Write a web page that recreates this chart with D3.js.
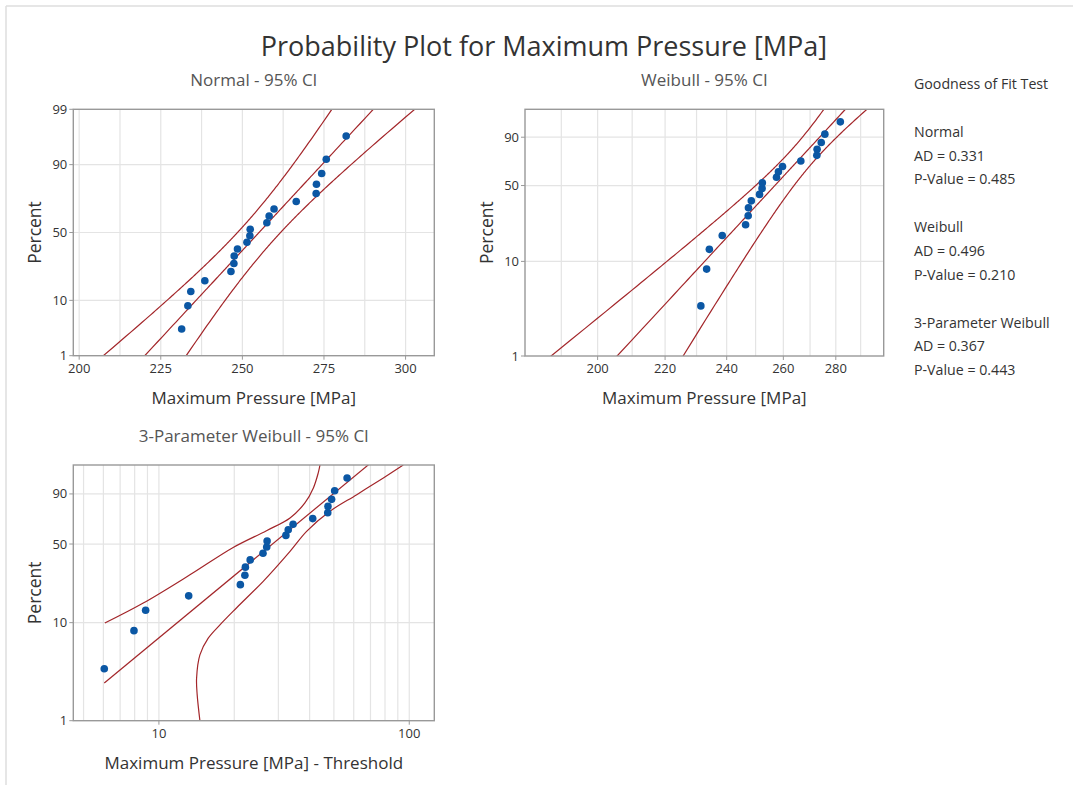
<!DOCTYPE html>
<html>
<head>
<meta charset="utf-8">
<script src="https://cdn.jsdelivr.net/npm/d3@7/dist/d3.min.js"></script>
<style>
  body { margin: 0; background: #fff; }
  text { font-family: "Open Sans", "Noto Sans", sans-serif; }
</style>
</head>
<body>
<svg id="chart" width="1073" height="785"></svg>
<script>
// sorted sample, MPa
var pressure = [231.4, 233.3, 234.2, 238.5, 246.5, 247.4, 247.5, 248.5, 251.4, 252.3,
  252.4, 257.5, 258.2, 259.7, 266.5, 272.6, 272.7, 274.3, 275.7, 281.8]
// median ranks, percent
var percentRank = [3.43, 8.33, 13.24, 18.14, 23.04, 27.94, 32.84, 37.75, 42.65, 47.55,
  52.45, 57.35, 62.25, 67.16, 72.06, 76.96, 81.86, 86.76, 91.67, 96.57]

// fitted parameters
var normalMu = 255.1
var normalSigma = 15.05
var weibullShape = 19.0
var weibullScale = 261.9
var w3Shape = 2.152
var w3Scale = 33.7
var w3Threshold = 225.35

// 3-parameter CI bands: [value - threshold, percent]
var w3Upper = [[6.08, 9.9], [8.66, 15.5], [13.3, 28.2], [19.8, 47.2], [26.9, 61.5],
  [33.4, 72.6], [38.3, 84.4], [41.4, 93.0], [43.3, 97.8], [44.0, 99.0]]
var w3Lower = [[14.58, 1.0], [14.22, 1.85], [14.14, 2.74], [14.58, 4.75], [15.74, 7.0],
  [17.53, 9.5], [20.4, 13.9], [26.1, 24.7], [33.4, 44.1], [38.9, 60.9], [48.2, 78.1],
  [61.7, 89.6], [78.8, 96.6], [94.6, 99.0]]

var normalTicks = [200, 225, 250, 275, 300]
var normalGrid = [200, 212.5, 225, 237.5, 250, 262.5, 275, 287.5, 300]
var weibullTicks = [200, 220, 240, 260, 280]
var weibullGrid = [190, 200, 210, 220, 230, 240, 250, 260, 270, 280, 290]
var w3Ticks = [10, 100]
var w3Grid = [5, 6, 7, 8, 9, 10, 20, 30, 40, 50, 60, 70, 80, 90, 100]

var gofLines = ['Goodness of Fit Test', '', 'Normal', 'AD = 0.331', 'P-Value = 0.485', '',
  'Weibull', 'AD = 0.496', 'P-Value = 0.210', '', '3-Parameter Weibull', 'AD = 0.367', 'P-Value = 0.443']

var n = pressure.length
var POINT = '#0b57a4'
var LINE = '#a3262a'
var GRID = '#e4e4e4'

function qnorm (p) {
  var a = [-39.69683028665376, 220.9460984245205, -275.9285104469687, 138.3577518672690, -30.66479806614716, 2.506628277459239]
  var b = [-54.47609879822406, 161.5858368580409, -155.6989798598866, 66.80131188771972, -13.28068155288572]
  var c = [-0.007784894002430293, -0.3223964580411365, -2.400758277161838, -2.549671010422353, 4.374664141464968, 2.938163982698783]
  var d = [0.007784695709041462, 0.3224671290700398, 2.445134137142996, 3.754408661907416]
  var q, r
  if (p < 0.02425) {
    q = Math.sqrt(-2 * Math.log(p))
    return (((((c[0] * q + c[1]) * q + c[2]) * q + c[3]) * q + c[4]) * q + c[5]) / ((((d[0] * q + d[1]) * q + d[2]) * q + d[3]) * q + 1)
  }
  if (p > 1 - 0.02425) return -qnorm(1 - p)
  q = p - 0.5
  r = q * q
  return (((((a[0] * r + a[1]) * r + a[2]) * r + a[3]) * r + a[4]) * r + a[5]) * q / (((((b[0] * r + b[1]) * r + b[2]) * r + b[3]) * r + b[4]) * r + 1)
}
function wtrans (p) { return Math.log(-Math.log(1 - p)) }

var svg = d3.select('#chart')

// outer frame
svg.append('line').attr('x1', 6).attr('x2', 1073).attr('y1', 6).attr('y2', 6).attr('stroke', '#dedede').attr('stroke-width', 1.5)
svg.append('line').attr('x1', 6).attr('x2', 6).attr('y1', 6).attr('y2', 785).attr('stroke', '#dedede').attr('stroke-width', 1.5)

svg.append('text').attr('x', 544).attr('y', 56).attr('text-anchor', 'middle')
  .attr('font-size', 27).attr('fill', '#333').text('Probability Plot for Maximum Pressure [MPa]')

function drawPanel (cfg) {
  var g = svg.append('g')
  var x = cfg.x
  var y = cfg.y
  var box = { l: cfg.left, r: cfg.right, t: cfg.top, b: cfg.bottom }
  var id = 'clip-' + cfg.id
  svg.append('clipPath').attr('id', id).append('rect')
    .attr('x', box.l).attr('y', box.t).attr('width', box.r - box.l).attr('height', box.b - box.t)

  // grid
  g.selectAll('.vgrid').data(cfg.grid).enter().append('line')
    .attr('x1', function (d) { return x(d) }).attr('x2', function (d) { return x(d) })
    .attr('y1', box.t).attr('y2', box.b).attr('stroke', GRID).attr('stroke-width', 1.2)
  g.selectAll('.hgrid').data([10, 50, 90]).enter().append('line')
    .attr('x1', box.l).attr('x2', box.r)
    .attr('y1', function (d) { return y(d) }).attr('y2', function (d) { return y(d) })
    .attr('stroke', GRID).attr('stroke-width', 1.2)

  var plot = g.append('g').attr('clip-path', 'url(#' + id + ')')
  var line = d3.line()
    .x(function (d) { return x(d[0]) })
    .y(function (d) { return y(d[1]) })
    .curve(cfg.curve || d3.curveLinear)
  cfg.lines.forEach(function (pts) {
    plot.append('path').attr('d', line(pts)).attr('fill', 'none')
      .attr('stroke', LINE).attr('stroke-width', 1.2)
  })
  plot.selectAll('circle').data(cfg.points).enter().append('circle')
    .attr('cx', function (d) { return x(d[0]) })
    .attr('cy', function (d) { return y(d[1]) })
    .attr('r', 3.8).attr('fill', POINT)

  g.append('rect').attr('x', box.l).attr('y', box.t)
    .attr('width', box.r - box.l).attr('height', box.b - box.t)
    .attr('fill', 'none').attr('stroke', '#999').attr('stroke-width', 1.4)

  // ticks
  g.selectAll('.xt').data(cfg.xTicks).enter().append('line')
    .attr('x1', function (d) { return x(d) }).attr('x2', function (d) { return x(d) })
    .attr('y1', box.b).attr('y2', box.b + 4).attr('stroke', '#999')
  g.selectAll('.xl').data(cfg.xTicks).enter().append('text')
    .attr('x', function (d) { return x(d) }).attr('y', box.b + 17)
    .attr('text-anchor', 'middle').attr('font-size', 13).attr('fill', '#333')
    .text(function (d) { return d })
  g.selectAll('.yt').data(cfg.yTicks).enter().append('line')
    .attr('x1', box.l - 4).attr('x2', box.l)
    .attr('y1', function (d) { return y(d) }).attr('y2', function (d) { return y(d) })
    .attr('stroke', '#999')
  g.selectAll('.yl').data(cfg.yTicks).enter().append('text')
    .attr('x', box.l - 6).attr('y', function (d) { return y(d) + 4.5 })
    .attr('text-anchor', 'end').attr('font-size', 13).attr('fill', '#333')
    .text(function (d) { return d })

  var cx = (box.l + box.r) / 2
  g.append('text').attr('x', cx).attr('y', box.t - 23).attr('text-anchor', 'middle')
    .attr('font-size', 17).attr('fill', '#555').text(cfg.subtitle)
  g.append('text').attr('x', cx).attr('y', box.b + 48).attr('text-anchor', 'middle')
    .attr('font-size', 17).attr('fill', '#333').text(cfg.xTitle)
  g.append('text').attr('transform', 'translate(' + (box.l - 32) + ',' + ((box.t + box.b) / 2) + ') rotate(-90)')
    .attr('text-anchor', 'middle').attr('font-size', 17.5).attr('fill', '#333').text('Percent')
}

var sampleP = d3.range(0.5, 99.51, 0.5)
var points = pressure.map(function (v, i) { return [v, percentRank[i]] })

// Normal
var normalMid = [], normalLo = [], normalHi = []
sampleP.forEach(function (pc) {
  var z = qnorm(pc / 100)
  var xp = normalMu + z * normalSigma
  var se = normalSigma * Math.sqrt(1 / n + z * z / (2 * n))
  normalMid.push([xp, pc])
  normalLo.push([xp - 1.96 * se, pc])
  normalHi.push([xp + 1.96 * se, pc])
})
var yNormal = d3.scaleLinear().domain([qnorm(0.01), qnorm(0.99)]).range([355.7, 109.3])
drawPanel({
  id: 'normal', left: 73.3, right: 434.3, top: 109.3, bottom: 355.7,
  x: d3.scaleLinear().domain([198.2, 308.8]).range([73.3, 434.3]),
  y: function (pc) { return yNormal(qnorm(pc / 100)) },
  grid: normalGrid, xTicks: normalTicks, yTicks: [1, 10, 50, 90, 99],
  lines: [normalMid, normalLo, normalHi], points: points,
  subtitle: 'Normal - 95% CI', xTitle: 'Maximum Pressure [MPa]'
})

// Weibull
var wb = 1 / weibullShape
var weibullMid = [], weibullLo = [], weibullHi = []
sampleP.forEach(function (pc) {
  var w = wtrans(pc / 100)
  var lx = Math.log(weibullScale) + wb * w
  var se = wb * Math.sqrt((1.1087 - 0.514 * w + 0.6079 * w * w) / n)
  weibullMid.push([Math.exp(lx), pc])
  weibullLo.push([Math.exp(lx - 1.96 * se), pc])
  weibullHi.push([Math.exp(lx + 1.96 * se), pc])
})
var yWeib = d3.scaleLinear().domain([wtrans(0.01), wtrans(0.99)]).range([356, 109.3])
drawPanel({
  id: 'weibull', left: 525, right: 883.7, top: 109.3, bottom: 356,
  x: d3.scaleLog().domain([180.5, 299.6]).range([525, 883.7]),
  y: function (pc) { return yWeib(wtrans(pc / 100)) },
  grid: weibullGrid, xTicks: weibullTicks, yTicks: [1, 10, 50, 90],
  lines: [weibullMid, weibullLo, weibullHi], points: points,
  subtitle: 'Weibull - 95% CI', xTitle: 'Maximum Pressure [MPa]'
})

// 3-parameter Weibull
var shifted = pressure.map(function (v, i) { return [v - w3Threshold, percentRank[i]] })
var vMin = d3.min(shifted, function (d) { return d[0] })
var w3Mid = [vMin, w3Scale * Math.exp(wtrans(0.995) / w3Shape)].map(function (v) {
  var pc = 100 * (1 - Math.exp(-Math.pow(v / w3Scale, w3Shape)))
  return [v, pc]
})
var yW3 = d3.scaleLinear().domain([wtrans(0.01), wtrans(0.99)]).range([720.7, 465])
drawPanel({
  id: 'w3', left: 73.3, right: 434.3, top: 465, bottom: 720.7,
  x: d3.scaleLog().domain([4.55, 125.9]).range([73.3, 434.3]),
  y: function (pc) { return yW3(wtrans(pc / 100)) },
  grid: w3Grid, xTicks: w3Ticks, yTicks: [1, 10, 50, 90],
  lines: [w3Mid, w3Upper, w3Lower], points: shifted, curve: d3.curveCatmullRom,
  subtitle: '3-Parameter Weibull - 95% CI', xTitle: 'Maximum Pressure [MPa] - Threshold'
})

// goodness of fit text
svg.append('g').selectAll('text').data(gofLines).enter().append('text')
  .attr('x', 914).attr('y', function (d, i) { return 89 + i * 23.85 })
  .attr('font-size', 14.2).attr('fill', '#333')
  .text(function (d) { return d })
</script>
</body>
</html>
